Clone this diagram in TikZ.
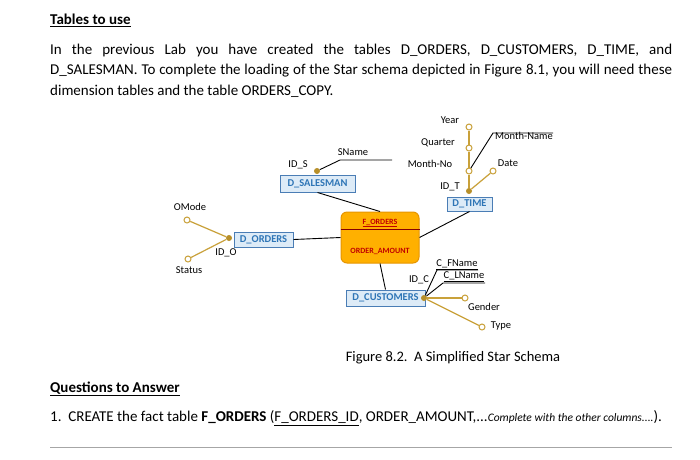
\documentclass[tikz,border=0pt]{standalone}
\usepackage{fontspec}
\setmainfont{Carlito}
\newcommand\myul[1]{\underline{#1}}
\definecolor{gold}{HTML}{C9A13A}
\definecolor{dotc}{HTML}{B8902A}
\definecolor{boxf}{HTML}{DDEBF7}
\definecolor{boxd}{HTML}{4A7DB5}
\definecolor{boxt}{HTML}{2E75B6}
\definecolor{ofill}{HTML}{FFB000}
\definecolor{odraw}{HTML}{E69500}
\definecolor{otext}{HTML}{C00000}
\tikzset{
  dim/.style={draw=boxd,fill=boxf,line width=1pt,text=boxt,font=\fontsize{10.5}{12}\selectfont\bfseries,inner sep=0pt},
  lab/.style={font=\fontsize{10.5}{12}\selectfont,inner sep=0pt},
  key/.style={circle,fill=dotc,inner sep=0pt,minimum size=6pt},
  att/.style={circle,draw=gold,fill=white,line width=1pt,inner sep=0pt,minimum size=6pt},
  gl/.style={gold,line width=1.2pt},
  bl/.style={black,line width=0.9pt},
  txt/.style={anchor=west,inner sep=0pt,font=\fontsize{15}{17}\selectfont}
}
\begin{document}
\begin{tikzpicture}[x=1pt,y=-1pt]
\useasboundingbox (0,0) rectangle (700,459);
\fill[white] (0,0) rectangle (700,459);
\node[txt] (t1) at (50,20) {\textbf{\myul{Tables to use}}};
\node[txt] (p1) at (50,50) {\makebox[622pt][s]{In the previous Lab you have created the tables D\_ORDERS, D\_CUSTOMERS, D\_TIME, and}};
\node[txt] (p2) at (50,71) {\makebox[622pt][s]{D\_SALESMAN. To complete the loading of the Star schema depicted in Figure 8.1, you will need these}};
\node[txt] (p3) at (50,91) {dimension tables and the table ORDERS\_COPY.};
% fact
\node[draw=odraw,fill=ofill,line width=1pt,rounded corners=6pt,minimum width=78pt,minimum height=51pt,inner sep=0pt] (f) at (380,237.5) {};
\draw[otext!70!black,line width=0.8pt] (f.west|-0,229) -- (f.east|-0,229);
\node[font=\fontsize{8}{9}\selectfont\bfseries,text=otext,inner sep=0pt] (fn) at (380,223) {\myul{F\_ORDERS}};
\node[font=\fontsize{8}{9}\selectfont\bfseries,text=otext,inner sep=0pt] (fa) at (380,251) {ORDER\_AMOUNT};
% dims
\node[dim,minimum width=75pt,minimum height=17pt] (ds) at (317.5,183.5) {D\_SALESMAN};
\node[dim,minimum width=59pt,minimum height=15pt] (do) at (263.5,239.5) {D\_ORDERS};
\node[dim,minimum width=45pt,minimum height=14pt] (dt) at (469.5,204) {D\_TIME};
\node[dim,minimum width=79pt,minimum height=16pt] (dc) at (385.5,298) {D\_CUSTOMERS};
\draw[bl] (ds.south) -- (f.north);
\draw[bl] (do.east) -- (f.west);
\draw[bl] (dt.south) -- (f.east);
\draw[bl] (dc.north) -- (f.south);
% salesman
\node[key] (ks) at (317,171) {};
\coordinate (sn1) at (340,160); \coordinate (sn2) at (392,160);
\draw[bl] (ks) -- (sn1) -- (sn2);
\node[lab] (ls) at (298,165) {ID\_S};
\node[lab] (lsn) at (353,152) {SName};
% orders
\node[key] (ko) at (229,238) {};
\node[att] (om) at (187,220) {};
\node[att] (st) at (188,259) {};
\draw[gl] (ko) -- (om); \draw[gl] (ko) -- (st);
\node[lab] (lom) at (190,207) {OMode};
\node[lab] (lst) at (189,270) {Status};
\node[lab] (lio) at (226,253) {ID\_O};
% time
\node[key] (kt) at (469,191) {};
\node[att] (yr) at (469,127) {};
\node[att] (qt) at (469,148) {};
\node[att] (mn) at (469,171) {};
\node[att] (dte) at (493,171) {};
\draw[gl] (kt) -- (mn) -- (qt) -- (yr);
\draw[gl] (kt) -- (dte);
\coordinate (mm1) at (493,133); \coordinate (mm2) at (553,133);
\draw[bl] (mn) -- (mm1) -- (mm2);
\node[lab] (lyr) at (450,120) {Year};
\node[lab] (lqt) at (438,143) {Quarter};
\node[lab] (lmn) at (430,164) {Month-No};
\node[lab] (ldt) at (508,163) {Date};
\node[lab] (lmm) at (524,136) {Month-Name};
\node[lab] (lit) at (450,187) {ID\_T};
% customers
\node[key] (kc) at (424,298) {};
\coordinate (cf1) at (437,270); \coordinate (cf2) at (478,270);
\coordinate (cl1) at (443,283); \coordinate (cl2) at (485,283);
\draw[bl] (kc) -- (cf1) -- (cf2);
\draw[bl] (kc) -- (cl1) -- (cl2);
\node[lab] (lcf) at (457,265) {\myul{C\_FName}};
\node[lab] (lcl) at (464,277) {\myul{C\_LName}};
\node[lab] (lic) at (419,280) {ID\_C};
\node[att] (gd) at (465,298) {};
\node[att] (ty) at (482,327) {};
\draw[gl] (kc) -- (gd); \draw[gl] (kc) -- (ty);
\node[lab] (lgd) at (484,307) {Gender};
\node[lab] (lty) at (501,326) {Type};
% caption
\node[font=\fontsize{14.5}{16}\selectfont,inner sep=0pt] (cap) at (453,358) {Figure 8.2.\ \ A Simplified Star Schema};
\node[txt] (q) at (50,389) {\textbf{\myul{Questions to Answer}}};
\node[txt] (q1) at (50,418) {1.\ \ CREATE the fact table \textbf{F\_ORDERS} (\myul{F\_ORDERS\_ID}, ORDER\_AMOUNT,...{\fontsize{11.5}{13}\selectfont\itshape Complete with the other columns....}).};
\coordinate (h1) at (50,447); \coordinate (h2) at (672,447);
\draw[gray!70,line width=0.8pt] (h1) -- (h2);
\end{tikzpicture}
\end{document}
